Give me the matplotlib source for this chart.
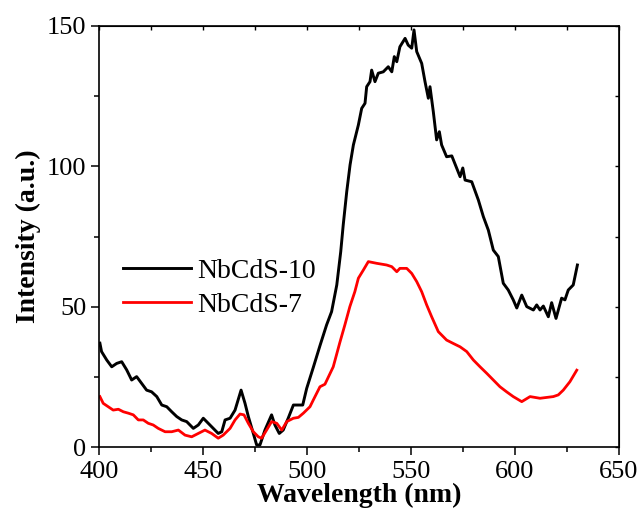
import numpy as np
import matplotlib
matplotlib.use("Agg")
import matplotlib.pyplot as plt
from matplotlib.ticker import MultipleLocator

plt.rcParams['font.family'] = ['Liberation Serif', 'DejaVu Serif']

# =================== DATA =================== #

wl_10 = [400.2, 401.0, 403.5, 405.9, 408.3, 410.7, 413.1, 415.5, 417.9, 420.3,
         422.7, 425.1, 427.6, 430.0, 432.4, 434.8, 437.2, 439.6, 442.0, 445.2,
         447.6, 450.0, 452.4, 454.8, 457.2, 458.9, 460.5, 462.9, 465.3, 468.2,
         470.1, 471.7, 474.1, 475.7, 477.3, 479.7, 482.9, 484.5, 486.6, 488.5,
         490.9, 493.4, 495.8, 497.9, 499.8, 503.0, 506.2, 509.4, 511.8, 514.3,
         516.2, 517.4, 519.1, 520.7, 522.3, 524.7, 526.3, 527.9, 528.7, 530.3,
         531.1, 532.7, 534.3, 536.7, 539.1, 540.8, 542.0, 543.2, 544.7, 547.2,
         548.7, 550.4, 551.5, 552.8, 555.2, 556.8, 558.4, 559.2, 560.8, 562.4,
         563.7, 564.8, 567.2, 569.7, 573.7, 575.0, 576.1, 579.3, 582.5, 584.9,
         587.3, 589.7, 592.1, 594.5, 596.9, 599.3, 601.0, 603.4, 605.8, 609.0,
         610.6, 612.2, 613.8, 616.2, 617.8, 619.9, 622.6, 624.2, 625.8, 628.2,
         630.2]
int_10 = [37.1, 34.1, 31.1, 28.7, 29.9, 30.5, 27.6, 24.0, 25.2, 22.8,
          20.4, 19.8, 18.1, 15.1, 14.5, 12.7, 11.0, 9.8, 9.2, 6.8,
          8.0, 10.4, 8.6, 6.8, 5.0, 5.6, 9.8, 10.4, 13.3, 20.4,
          15.7, 11.0, 5.0, 0.9, 0.9, 6.2, 11.6, 8.0, 5.0, 6.2,
          10.4, 15.1, 15.1, 15.1, 21.0, 28.5, 36.2, 43.6, 48.3, 57.8,
          69.6, 79.1, 91.0, 100.5, 107.6, 114.7, 120.6, 122.4, 128.3, 130.1,
          134.2, 130.1, 133.1, 133.6, 135.4, 133.6, 139.0, 137.2, 142.5, 145.5,
          143.1, 142.0, 148.5, 140.8, 136.6, 130.1, 124.2, 128.3, 119.4, 109.4,
          112.3, 107.6, 103.4, 103.7, 96.3, 99.4, 95.1, 94.5, 88.0, 82.1,
          77.3, 70.2, 67.9, 58.4, 56.0, 52.5, 49.6, 54.2, 50.1, 48.9,
          50.7, 48.9, 50.3, 46.5, 51.5, 45.9, 53.1, 52.5, 56.0, 57.8,
          64.9]

wl_7 = [400.2, 401.8, 404.2, 406.6, 409.1, 411.5, 413.9, 416.3, 418.7, 421.1,
        423.5, 425.9, 428.3, 431.6, 434.8, 438.0, 441.2, 444.4, 447.6, 450.8,
        454.0, 457.2, 459.6, 462.9, 465.3, 467.7, 469.6, 471.7, 474.1, 476.5,
        478.1, 480.5, 482.9, 485.4, 487.8, 490.2, 493.4, 495.8, 498.2, 501.4,
        503.0, 506.2, 508.6, 512.6, 515.8, 518.2, 520.6, 523.0, 524.7, 527.1,
        529.5, 533.5, 538.3, 540.8, 543.2, 544.7, 548.0, 550.4, 552.8, 555.2,
        557.6, 560.0, 563.2, 567.2, 570.4, 573.7, 576.9, 580.1, 583.3, 586.5,
        589.7, 592.9, 596.1, 599.3, 603.4, 607.4, 612.2, 618.6, 621.0, 623.4,
        626.6, 629.9]
int_7 = [18.1, 15.7, 14.5, 13.3, 13.6, 12.7, 12.2, 11.6, 9.8, 9.8,
         8.6, 8.0, 6.8, 5.6, 5.6, 6.2, 4.4, 3.8, 5.0, 6.2,
         5.0, 3.3, 4.4, 6.8, 9.8, 11.9, 11.6, 8.6, 5.6, 3.8,
         3.3, 6.2, 9.2, 8.6, 6.2, 9.2, 10.4, 10.7, 12.2, 14.5,
         16.9, 21.6, 22.5, 28.7, 37.4, 43.6, 50.1, 55.4, 60.2, 63.1,
         66.1, 65.5, 64.9, 64.3, 62.5, 63.7, 63.7, 61.9, 59.0, 55.4,
         50.7, 46.5, 41.2, 38.2, 37.0, 35.8, 34.1, 31.1, 28.7, 26.4,
         24.0, 21.6, 19.8, 18.1, 16.3, 18.1, 17.5, 18.1, 18.7, 20.4,
         23.4, 27.5]

series_names = ['NbCdS-10', 'NbCdS-7']

# =================== PLOT =================== #

fig = plt.figure(figsize=(6.41, 5.14), dpi=100)
ax = fig.add_axes([0.1552, 0.1294, 0.8097, 0.8206])

ax.plot(wl_10, int_10, color='black', lw=2.1, label=series_names[0])
ax.plot(wl_7, int_7, color='red', lw=2.0, label=series_names[1])

ax.set_xlim(400, 650)
ax.set_ylim(0, 150)
ax.xaxis.set_major_locator(MultipleLocator(50))
ax.xaxis.set_minor_locator(MultipleLocator(25))
ax.yaxis.set_major_locator(MultipleLocator(50))
ax.yaxis.set_minor_locator(MultipleLocator(25))
ax.tick_params(which='major', direction='out', length=6, width=1.1, labelsize=19)
ax.tick_params(which='minor', direction='out', length=3.5, width=1.1)
for sp in ax.spines.values():
    sp.set_linewidth(1.2)

# top / right: small inward ticks, no labels
top = ax.secondary_xaxis('top')
top.set_xticks(np.arange(400, 651, 25))
top.tick_params(direction='in', length=3, width=1.0, labeltop=False)
right = ax.secondary_yaxis('right')
right.set_yticks(np.arange(0, 151, 25))
right.tick_params(direction='in', length=3, width=1.0, labelright=False)

ax.set_xlabel('Wavelength (nm)', fontsize=20, fontweight='bold', labelpad=0)
ax.set_ylabel('Intensity (a.u.)', fontsize=20, fontweight='bold', labelpad=4)

ax.legend(loc='upper left', bbox_to_anchor=(0.192, 0.497), bbox_transform=fig.transFigure,
          frameon=False, fontsize=20, handlelength=2.45, handletextpad=0.22,
          labelspacing=0.3, borderpad=0, borderaxespad=0)

fig.savefig('out.png', dpi=100)
